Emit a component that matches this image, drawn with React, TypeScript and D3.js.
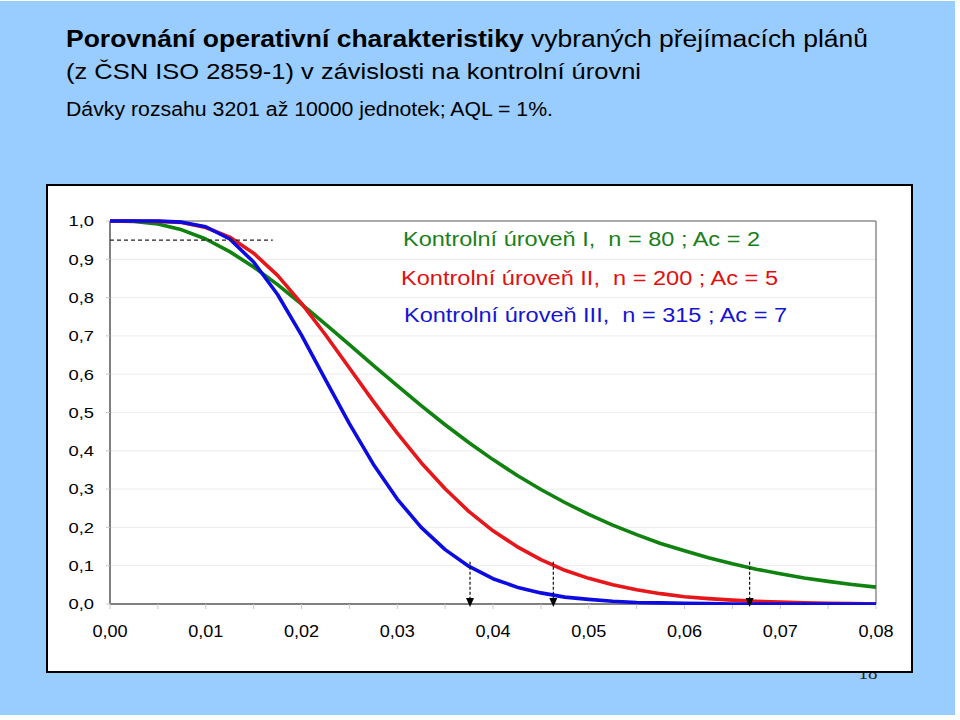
import React from "react";
import * as d3 from "d3";

// Fraction defective p (x axis)
const pValues = [
  0, 0.0025, 0.005, 0.0075, 0.01, 0.0125, 0.015, 0.0175, 0.02, 0.0225, 0.025,
  0.0275, 0.03, 0.0325, 0.035, 0.0375, 0.04, 0.0425, 0.045, 0.0475, 0.05,
  0.0525, 0.055, 0.0575, 0.06, 0.0625, 0.065, 0.0675, 0.07, 0.0725, 0.075,
  0.0775, 0.08,
];

// Probability of acceptance
const levelI = [
  1.0, 0.999, 0.992, 0.977, 0.953, 0.92, 0.88, 0.834, 0.783, 0.731, 0.677,
  0.623, 0.57, 0.518, 0.468, 0.421, 0.377, 0.336, 0.299, 0.265, 0.234, 0.206,
  0.181, 0.158, 0.139, 0.121, 0.105, 0.091, 0.079, 0.068, 0.059, 0.051, 0.044,
];
const levelII = [
  1.0, 1.0, 0.999, 0.996, 0.983, 0.958, 0.916, 0.858, 0.785, 0.703, 0.616,
  0.529, 0.446, 0.369, 0.301, 0.241, 0.191, 0.15, 0.116, 0.088, 0.067, 0.05,
  0.037, 0.027, 0.019, 0.014, 0.01, 0.007, 0.005, 0.003, 0.002, 0.001, 0.0,
];
const levelIII = [
  1.0, 1.0, 1.0, 0.997, 0.985, 0.953, 0.893, 0.808, 0.702, 0.586, 0.471,
  0.365, 0.274, 0.2, 0.142, 0.098, 0.066, 0.044, 0.029, 0.018, 0.012, 0.007,
  0.004, 0.003, 0.002, 0.001, 0, 0, 0, 0, 0, 0, 0,
];

const seriesNames = [
  "Kontrolní úroveň I,  n = 80 ; Ac = 2",
  "Kontrolní úroveň II,  n = 200 ; Ac = 5",
  "Kontrolní úroveň III,  n = 315 ; Ac = 7",
];
const seriesColors = ["#0f820f", "#e6161a", "#0c0ce0"];
const legendColors = ["#1a7f1a", "#e01010", "#1414d2"];

// Marked points: producer's risk line and LTPD (Pa = 0.10) arrows
const aqlLine = { pa: 0.95, pEnd: 0.017 };
const ltpdPoints = [0.0376, 0.0463, 0.0668];
const arrowTopPa = 0.11;

const xTicks = [0, 0.01, 0.02, 0.03, 0.04, 0.05, 0.06, 0.07, 0.08];
const xTickLabels = ["0,00", "0,01", "0,02", "0,03", "0,04", "0,05", "0,06", "0,07", "0,08"];
const xMinorTicks = [0.005, 0.015, 0.025, 0.035, 0.045, 0.055, 0.065, 0.075];
const yTicks = [0, 0.1, 0.2, 0.3, 0.4, 0.5, 0.6, 0.7, 0.8, 0.9, 1.0];
const yTickLabels = ["0,0", "0,1", "0,2", "0,3", "0,4", "0,5", "0,6", "0,7", "0,8", "0,9", "1,0"];

const FONT = "'Liberation Sans', Arial, Helvetica, sans-serif";

export default function App() {
  const W = 960;
  const H = 720;
  const x = d3.scaleLinear().domain([0, 0.08]).range([110, 876]);
  const y = d3.scaleLinear().domain([0, 1]).range([604, 221]);

  const series = [levelI, levelII, levelIII];
  const line = d3
    .line<number>()
    .x((_, i) => x(pValues[i]))
    .y((d) => y(d));

  const legendY = [245.5, 284.5, 322];
  const legendX = [403, 401, 404];
  const legendW = [357, 377, 383];

  return (
    <svg
      width={W}
      height={H}
      style={{ position: "absolute", left: 0, top: 0, background: "#ffffff" }}
      fontFamily={FONT}
    >
      <defs>
        <clipPath id="plotClip">
          <rect x={100} y={190} width={790} height={605 - 190} />
        </clipPath>
      </defs>
      <rect x={0} y={1} width={955} height={714} fill="#99ccff" />

      {/* Title */}
      <text x={66} y={46.7} fontSize={23} textLength={802} lengthAdjust="spacingAndGlyphs" fill="#000">
        <tspan fontWeight="bold">Porovnání operativní charakteristiky</tspan>
        <tspan>{" vybraných přejímacích plánů"}</tspan>
      </text>
      <text x={66} y={79.3} fontSize={22} textLength={575} lengthAdjust="spacingAndGlyphs" fill="#000">
        (z ČSN ISO 2859-1) v závislosti na kontrolní úrovni
      </text>
      <text x={66} y={116} fontSize={20} textLength={487} lengthAdjust="spacingAndGlyphs" fill="#000">
        Dávky rozsahu 3201 až 10000 jednotek; AQL = 1%.
      </text>

      {/* page number, partly hidden by the chart box */}
      <text x={868} y={679} fontSize={19} textAnchor="middle" fontFamily="'Liberation Serif', 'Times New Roman', serif" fill="#222">
        18
      </text>

      {/* chart box */}
      <rect x={47} y={185} width={865} height={487} fill="#ffffff" stroke="#000" strokeWidth={2} />

      {/* gridlines */}
      {yTicks
        .filter((t) => t > 0 && t < 1)
        .map((t) => (
          <line key={"g" + t} x1={x(0)} x2={x(0.08)} y1={y(t)} y2={y(t)} stroke="#ececec" strokeWidth={1} />
        ))}
      {/* plot frame top/right */}
      <line x1={x(0)} x2={x(0.08)} y1={y(1)} y2={y(1)} stroke="#8c8c8c" strokeWidth={1.5} />
      <line x1={x(0.08)} x2={x(0.08)} y1={y(1)} y2={y(0)} stroke="#8c8c8c" strokeWidth={1.5} />

      {/* axes */}
      <line x1={x(0)} x2={x(0)} y1={y(1)} y2={y(0)} stroke="#808080" strokeWidth={2} />
      <line x1={x(0)} x2={x(0.08)} y1={y(0)} y2={y(0)} stroke="#808080" strokeWidth={2} />
      {yTicks.map((t) => (
        <line key={"yt" + t} x1={x(0) - 4} x2={x(0)} y1={y(t)} y2={y(t)} stroke="#c8c8c8" strokeWidth={1} />
      ))}
      {[...xTicks, ...xMinorTicks].map((t) => (
        <line key={"xt" + t} x1={x(t)} x2={x(t)} y1={y(0)} y2={y(0) + 5} stroke="#c8c8c8" strokeWidth={1} />
      ))}

      {/* tick labels */}
      {yTicks.map((t, i) => (
        <text
          key={"yl" + t}
          x={94}
          y={y(t) + 5.3}
          fontSize={15}
          textAnchor="end"
          textLength={25.5}
          lengthAdjust="spacingAndGlyphs"
          fill="#000"
        >
          {yTickLabels[i]}
        </text>
      ))}
      {xTicks.map((t, i) => (
        <text
          key={"xl" + t}
          x={x(t) - 17.6}
          y={637}
          fontSize={16}
          textLength={35.2}
          lengthAdjust="spacingAndGlyphs"
          fill="#000"
        >
          {xTickLabels[i]}
        </text>
      ))}

      {/* curves */}
      <g clipPath="url(#plotClip)">
        {series.map((s, k) => (
          <path
            key={"s" + k}
            d={line(s) || ""}
            fill="none"
            stroke={seriesColors[k]}
            strokeWidth={3.6}
            strokeLinejoin="round"
            strokeLinecap="butt"
          />
        ))}
      </g>

      {/* producer's risk dashed line */}
      <line
        x1={x(0)}
        x2={x(aqlLine.pEnd)}
        y1={y(aqlLine.pa)}
        y2={y(aqlLine.pa)}
        stroke="#222"
        strokeWidth={1.2}
        strokeDasharray="4,3"
      />

      {/* LTPD arrows */}
      {ltpdPoints.map((p) => (
        <g key={"a" + p}>
          <line
            x1={x(p)}
            x2={x(p)}
            y1={y(arrowTopPa)}
            y2={y(0) - 4}
            stroke="#111"
            strokeWidth={1.2}
            strokeDasharray="3,2"
          />
          <path
            d={`M${x(p) - 4},${y(0) - 6} L${x(p) + 4},${y(0) - 6} L${x(p)},${y(0) + 3} Z`}
            fill="#000"
          />
        </g>
      ))}

      {/* legend text */}
      {seriesNames.map((n, k) => (
        <text
          key={"lg" + k}
          x={legendX[k]}
          y={legendY[k]}
          fontSize={19.5}
          fill={legendColors[k]}
          textLength={legendW[k]}
          lengthAdjust="spacingAndGlyphs"
          style={{ whiteSpace: "pre" }}
        >
          {n}
        </text>
      ))}
    </svg>
  );
}
